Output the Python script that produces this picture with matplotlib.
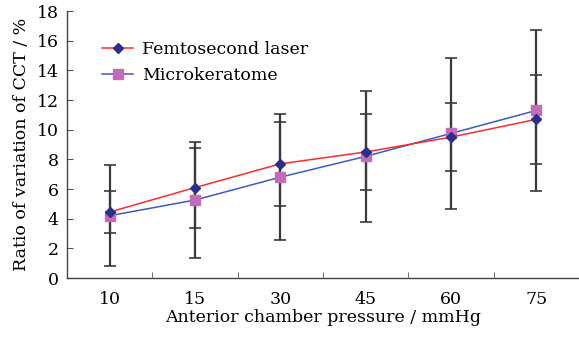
import matplotlib
matplotlib.use("Agg")
import matplotlib.pyplot as plt
import numpy as np

categories = ["10", "15", "30", "45", "60", "75"]
femto = [4.45, 6.1, 7.7, 8.5, 9.5, 10.7]
femto_err = [1.4, 2.7, 2.85, 2.56, 2.29, 3.0]
micro = [4.2, 5.26, 6.8, 8.2, 9.75, 11.3]
micro_err = [3.4, 3.9, 4.25, 4.43, 5.1, 5.45]
yticks = [0, 2, 4, 6, 8, 10, 12, 14, 16, 18]

plt.rcParams['font.family'] = ['DejaVu Serif']

fig = plt.figure(figsize=(5.79, 3.37), dpi=100)
ax = fig.add_axes([0.1157, 0.175, 0.884, 0.792])
x = np.arange(len(categories))

ax.errorbar(x, micro, yerr=micro_err, fmt='none', ecolor='#3a3a3a', elinewidth=1.6, capsize=4, capthick=1.2, zorder=1)
ax.errorbar(x, femto, yerr=femto_err, fmt='none', ecolor='#3a3a3a', elinewidth=1.6, capsize=4, capthick=1.2, zorder=1)
ax.plot(x, femto, color='#ff2a2a', lw=1.1, marker='D', ms=5, mfc='#2b2f8c', mec='#2b2f8c', label='Femtosecond laser', zorder=3)
ax.plot(x, micro, color='#3a5cc0', lw=1.1, marker='s', ms=7, mfc='#c46cb8', mec='#c46cb8', label='Microkeratome', zorder=2)

ax.set_xlim(-0.5, 5.5)
ax.set_ylim(0, 18)
ax.set_yticks(yticks)
ax.set_xticks(x)
ax.set_xticklabels(categories)
ax.set_xticks(np.arange(0.5, 5.5, 1.0), minor=True)
ax.tick_params(axis='x', which='major', length=0, labelsize=12.5, pad=9)
ax.tick_params(axis='x', which='minor', direction='in', length=4, color='#555555')
ax.tick_params(axis='y', direction='in', length=4, labelsize=12.5, pad=6, color='#555555')
for s in ['top', 'right']:
    ax.spines[s].set_visible(False)
for s in ['left', 'bottom']:
    ax.spines[s].set_color('#444444')
    ax.spines[s].set_linewidth(1.0)

ax.set_xlabel('Anterior chamber pressure / mmHg', fontsize=12.5, labelpad=1)
ax.set_ylabel('Ratio of variation of CCT / %', fontsize=12.5, labelpad=5)

leg = ax.legend(loc='upper left', bbox_to_anchor=(0.055, 0.915), frameon=False, fontsize=12.5,
                handlelength=1.8, handletextpad=0.5, labelspacing=0.55, borderaxespad=0)

fig.savefig('out.png', dpi=100)
